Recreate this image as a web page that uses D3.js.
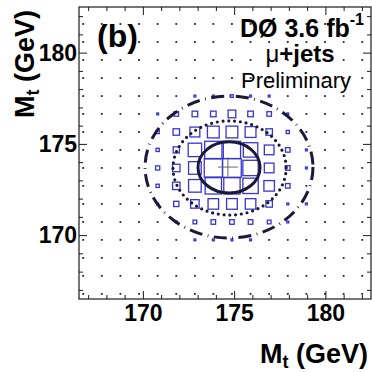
<!DOCTYPE html>
<html>
<head>
<meta charset="utf-8">
<script src="https://cdn.jsdelivr.net/npm/d3@7"></script>
<style>
  html, body { margin: 0; padding: 0; background: #fff; }
  svg { display: block; }
  text { font-family: "Liberation Sans", Arial, Helvetica, sans-serif; }
</style>
</head>
<body>
<svg id="chart" width="372" height="372"></svg>
<script>
// Axis ranges and ticks (GeV)
const xDomain = [166.5, 182.5];
const yDomain = [166.5, 182.5];
const majorTicks = [170, 175, 180];
const minorTicks = [167, 168, 169, 171, 172, 173, 174, 176, 177, 178, 179, 181, 182];

// Bin centres of the ensemble grid
const binX = [166.73, 167.75, 168.77, 169.79, 170.81, 171.83, 172.85, 173.86,
              174.88, 175.90, 176.92, 177.94, 178.96, 179.98, 181.00, 182.02];
// top row first
const binY = [181.57, 180.58, 179.60, 178.61, 177.62, 176.64, 175.65, 174.67,
              173.68, 172.70, 171.71, 170.72, 169.74, 168.75, 167.77, 166.78];

// Box contents (relative entries), rows follow binY, columns follow binX
const boxCounts = [
  [0, 0, 0, 0, 0, 0, 0, 0, 0, 0, 0, 0, 0, 0, 0, 0],
  [0, 0, 0, 0, 0, 0, 0, 0, 0, 0, 0, 0, 0, 0, 0, 0],
  [0, 0, 0, 0, 0, 0, 0, 0, 0, 0, 0, 0, 0, 0, 0, 0],
  [0, 0, 0, 0, 0, 0, 0, 0, 0, 0, 0, 0, 0, 0, 0, 0],
  [0, 0, 0, 0, 0, 0, 1, 1, 2, 1, 1, 0, 0, 0, 0, 0],
  [0, 0, 0, 0, 1, 6, 9, 9, 17, 9, 6, 1, 0, 0, 0, 0],
  [0, 0, 0, 0, 3, 12, 28, 40, 40, 34, 12, 3, 0, 0, 0, 0],
  [0, 0, 0, 0, 3, 11, 52, 86, 86, 60, 27, 6, 1, 0, 0, 0],
  [0, 0, 0, 0, 5, 16, 46, 95, 100, 68, 27, 6, 1, 0, 0, 0],
  [0, 0, 0, 0, 3, 16, 46, 77, 77, 68, 32, 6, 0, 0, 0, 0],
  [0, 0, 0, 0, 1, 8, 21, 32, 33, 32, 12, 1, 1, 0, 0, 0],
  [0, 0, 0, 0, 0, 1, 4, 6, 6, 6, 4, 1, 0, 0, 0, 0],
  [0, 0, 0, 0, 0, 0, 1, 1, 1, 1, 0, 0, 0, 0, 0, 0],
  [0, 0, 0, 0, 0, 0, 0, 0, 0, 0, 0, 0, 0, 0, 0, 0],
  [0, 0, 0, 0, 0, 0, 0, 0, 0, 0, 0, 0, 0, 0, 0, 0],
  [0, 0, 0, 0, 0, 0, 0, 0, 0, 0, 0, 0, 0, 0, 0, 0]
];

// Contours: 1, 2, 3 sigma ellipses (GeV)
const contourCx = [174.72, 174.75, 174.72];
const contourCy = [173.71, 173.68, 173.73];
const contourRx = [1.70, 3.10, 4.60];
const contourRy = [1.40, 2.58, 3.89];

// Fitted point with its error bars
const fitX = 174.66, fitY = 173.73;
const fitErrX = 0.55, fitErrY = 0.52;

// Layout
const W = 372, H = 372;
const m = {top: 7, right: 1, bottom: 73, left: 79};
const svg = d3.select("#chart");

const x = d3.scaleLinear().domain(xDomain).range([m.left, W - m.right]);
const y = d3.scaleLinear().domain(yDomain).range([H - m.bottom, m.top]);

const ink = "#1a1a1a";
const boxBlue = "#3636d0";
const contourInk = "#1a1a38";

// Grid dots (empty cells only)
const cells = [];
binY.forEach((yv, r) => binX.forEach((xv, c) => cells.push({xv, yv, n: boxCounts[r][c]})));

svg.append("g").selectAll("rect")
  .data(cells.filter(d => d.n === 0))
  .join("rect")
  .attr("x", d => x(d.xv) - 0.9)
  .attr("y", d => y(d.yv) - 0.9)
  .attr("width", 1.8)
  .attr("height", 1.8)
  .attr("fill", "#1e1e46");

// Boxes: area proportional to content
const cellW = x(binX[1]) - x(binX[0]);
const side = d3.scaleSqrt().domain([0, d3.max(cells, d => d.n)]).range([0, cellW]);

svg.append("g").selectAll("rect")
  .data(cells.filter(d => d.n > 0))
  .join("rect")
  .attr("x", d => x(d.xv) - side(d.n) / 2)
  .attr("y", d => y(d.yv) - side(d.n) / 2)
  .attr("width", d => side(d.n))
  .attr("height", d => side(d.n))
  .attr("fill", "none")
  .attr("stroke", boxBlue)
  .attr("stroke-width", 1.3);

// Fitted point cross
const cross = svg.append("g").attr("stroke", "#666").attr("stroke-width", 1);
cross.append("line")
  .attr("x1", x(fitX - fitErrX)).attr("x2", x(fitX + fitErrX))
  .attr("y1", y(fitY)).attr("y2", y(fitY));
cross.append("line")
  .attr("x1", x(fitX)).attr("x2", x(fitX))
  .attr("y1", y(fitY - fitErrY)).attr("y2", y(fitY + fitErrY));

// Contour ellipses
const contourStyle = [
  {dash: null, width: 3, cap: "butt"},
  {dash: "0 5.8", width: 3.2, cap: "round"},
  {dash: "13 5.5 0.8 5.5", width: 3, cap: "butt"}
];
svg.append("g").selectAll("ellipse")
  .data(contourRx)
  .join("ellipse")
  .attr("cx", (d, i) => x(contourCx[i]))
  .attr("cy", (d, i) => y(contourCy[i]))
  .attr("rx", (d, i) => x(contourCx[i] + d) - x(contourCx[i]))
  .attr("ry", (d, i) => y(contourCy[i]) - y(contourCy[i] + contourRy[i]))
  .attr("fill", "none")
  .attr("stroke", contourInk)
  .attr("stroke-width", (d, i) => contourStyle[i].width)
  .attr("stroke-linecap", (d, i) => contourStyle[i].cap)
  .attr("stroke-dasharray", (d, i) => contourStyle[i].dash);

// Axes (ticks inside on all four sides)
function styleAxis(g, labelSize) {
  g.select(".domain").remove();
  g.selectAll(".tick line").attr("stroke", ink).attr("stroke-width", 1);
  g.selectAll(".tick text")
    .attr("fill", "#000")
    .attr("font-size", labelSize)
    .attr("font-weight", "bold");
}

const yBottom = H - m.bottom, xLeft = m.left, yTop = m.top, xRight = W - m.right;

svg.append("g").attr("transform", `translate(0,${yBottom})`)
  .call(d3.axisBottom(x).tickValues(majorTicks).tickSize(-8).tickSizeOuter(0).tickPadding(6).tickFormat(d3.format("d")))
  .call(g => styleAxis(g, 23));
svg.append("g").attr("transform", `translate(0,${yBottom})`)
  .call(d3.axisBottom(x).tickValues(minorTicks).tickSize(-4).tickSizeOuter(0).tickFormat(""))
  .call(g => styleAxis(g, 0));
svg.append("g").attr("transform", `translate(0,${yTop})`)
  .call(d3.axisTop(x).tickValues(majorTicks).tickSize(-8).tickSizeOuter(0).tickFormat(""))
  .call(g => styleAxis(g, 0));
svg.append("g").attr("transform", `translate(0,${yTop})`)
  .call(d3.axisTop(x).tickValues(minorTicks).tickSize(-4).tickSizeOuter(0).tickFormat(""))
  .call(g => styleAxis(g, 0));

svg.append("g").attr("transform", `translate(${xLeft},0)`)
  .call(d3.axisLeft(y).tickValues(majorTicks).tickSize(-8).tickSizeOuter(0).tickPadding(2).tickFormat(d3.format("d")))
  .call(g => styleAxis(g, 23));
svg.append("g").attr("transform", `translate(${xLeft},0)`)
  .call(d3.axisLeft(y).tickValues(minorTicks).tickSize(-4).tickSizeOuter(0).tickFormat(""))
  .call(g => styleAxis(g, 0));
svg.append("g").attr("transform", `translate(${xRight},0)`)
  .call(d3.axisRight(y).tickValues(majorTicks).tickSize(-8).tickSizeOuter(0).tickFormat(""))
  .call(g => styleAxis(g, 0));
svg.append("g").attr("transform", `translate(${xRight},0)`)
  .call(d3.axisRight(y).tickValues(minorTicks).tickSize(-4).tickSizeOuter(0).tickFormat(""))
  .call(g => styleAxis(g, 0));

// Frame
svg.append("rect")
  .attr("x", xLeft).attr("y", yTop)
  .attr("width", xRight - xLeft).attr("height", yBottom - yTop)
  .attr("fill", "none")
  .attr("stroke", ink)
  .attr("stroke-width", 1.2);

// Axis titles
const xTitle = svg.append("text")
  .attr("x", 368).attr("y", 363)
  .attr("text-anchor", "end")
  .attr("font-size", 27).attr("font-weight", "bold");
xTitle.append("tspan").text("M");
xTitle.append("tspan").attr("font-size", 18).attr("dy", 5).text("t");
xTitle.append("tspan").attr("dy", -5).text(" (GeV)");

const yTitle = svg.append("text")
  .attr("transform", "translate(34,10) rotate(-90)")
  .attr("text-anchor", "end")
  .attr("font-size", 27).attr("font-weight", "bold");
yTitle.append("tspan").text("M");
yTitle.append("tspan").attr("font-size", 18).attr("dy", 5).text("t");
yTitle.append("tspan").attr("dy", -5).text(" (GeV)");

// Panel label and experiment text
svg.append("text")
  .attr("x", 97).attr("y", 47)
  .attr("font-size", 32).attr("font-weight", "bold")
  .text("(b)");

const lumi = svg.append("text")
  .attr("x", 302).attr("y", 37)
  .attr("text-anchor", "middle")
  .attr("font-size", 25).attr("font-weight", "bold");
lumi.append("tspan").text("DØ 3.6 fb");
lumi.append("tspan").attr("font-size", 16).attr("dy", -12).text("-1");

const chan = svg.append("text")
  .attr("x", 300).attr("y", 62)
  .attr("text-anchor", "middle")
  .attr("font-size", 24);
chan.append("tspan").attr("font-weight", "normal").text("μ");
chan.append("tspan").attr("font-weight", "bold").text("+jets");

svg.append("text")
  .attr("x", 296).attr("y", 88)
  .attr("text-anchor", "middle")
  .attr("font-size", 22)
  .text("Preliminary");
</script>
</body>
</html>
